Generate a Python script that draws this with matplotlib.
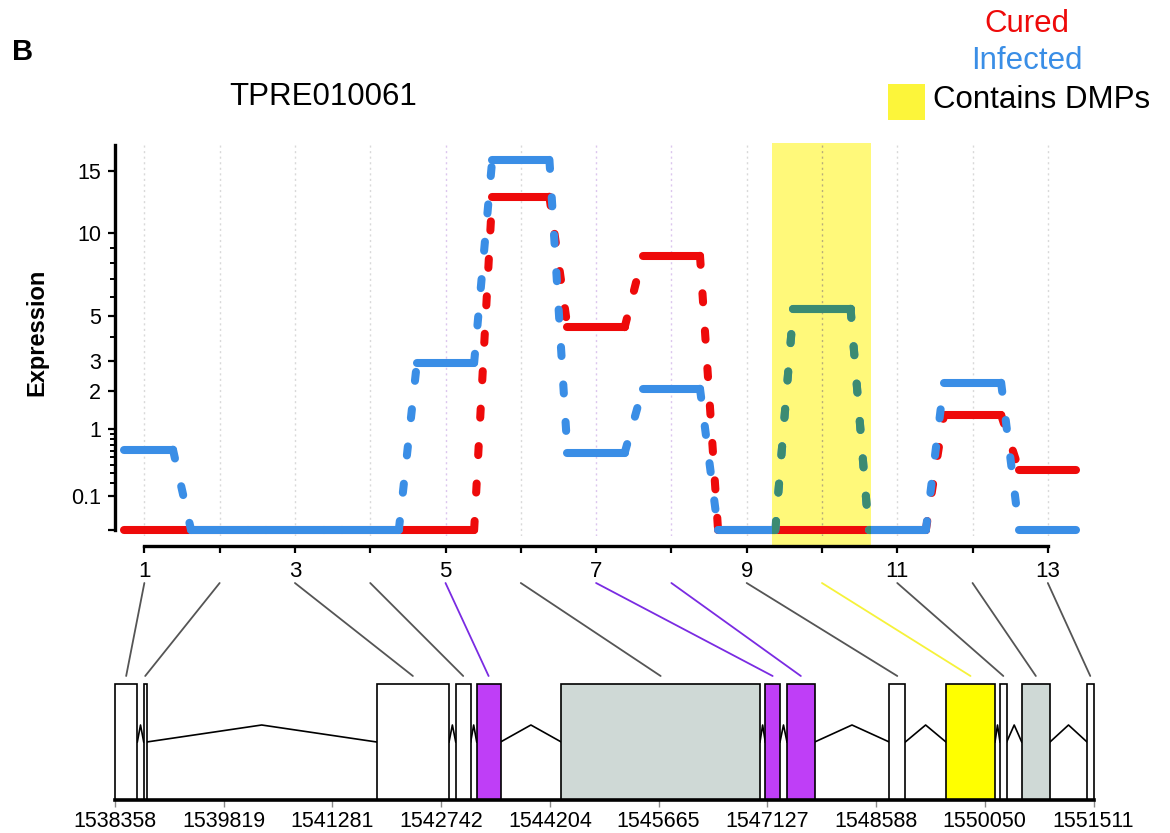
import numpy as np
import matplotlib
matplotlib.use('Agg')
import matplotlib.pyplot as plt
from matplotlib.patches import Rectangle, ConnectionPatch
from matplotlib.transforms import blended_transform_factory

plt.rcParams['font.family'] = ['Liberation Sans', 'DejaVu Sans']
plt.rcParams['lines.scale_dashes'] = False

# ---------------- data ----------------
gene_id = "TPRE010061"
exon_ids = list(range(1, 14))
cured = [0, 0, 0, 0, 0, 12.8, 4.45, 8.45, 0, 0, 0, 1.33, 0.33]
infected = [0.62, 0, 0, 0, 2.95, 16.0, 0.57, 2.06, 0, 5.35, 0, 2.25, 0]
exon_start = [1538358, 1538744, 1541876, 1542938, 1543220, 1544357, 1547099,
              1547391, 1548766, 1549528, 1550254, 1550546, 1551424]
exon_end = [1538658, 1538784, 1542848, 1543139, 1543540, 1547028, 1547297,
            1547763, 1548981, 1550187, 1550344, 1550926, 1551511]
exon_class = ['plain', 'plain', 'plain', 'plain', 'sig', 'other', 'sig', 'sig',
              'plain', 'dmp', 'plain', 'other', 'plain']
dmp_span = (9.34, 10.65)
genome_ticks = [1538358, 1539819, 1541281, 1542742, 1544204, 1545665,
                1547127, 1548588, 1550050, 1551511]
y_major = [0, 0.1, 1, 2, 3, 5, 10, 15]
y_major_labels = ['', '0.1', '1', '2', '3', '5', '10', '15']
y_minor = [0.2, 0.3, 0.4, 0.5, 0.6, 0.7, 0.8, 0.9, 4, 6, 7, 8, 9]

# ---------------- style ----------------
RED = '#ee0a0a'
BLUE = '#3a8ee6'
TEAL = '#3b8b72'
BAND = '#fff97a'
fill_colors = {'plain': 'white', 'sig': '#bf3ef7', 'other': '#cfd9d6', 'dmp': '#ffff00'}
conn_colors = {'plain': '#555555', 'sig': '#7a2be2', 'other': '#555555', 'dmp': '#f6f23a'}
grid_colors = {'plain': '#d9d9d9', 'sig': '#dcc6ee', 'other': '#d9d9d9', 'dmp': '#b8ad7a'}

W, H = 1170, 833
fig = plt.figure(figsize=(W / 100, H / 100), dpi=100)

P = 0.47
def fwd(v):
    v = np.asarray(v, dtype=float)
    return np.sign(v) * np.abs(v) ** P
def inv(u):
    u = np.asarray(u, dtype=float)
    return np.sign(u) * np.abs(u) ** (1 / P)

ax = fig.add_axes([115 / W, 1 - 536 / H, 978 / W, 391 / H])
ax.set_yscale('function', functions=(fwd, inv))
ax.set_xlim(0.61, 13.6)
ax.set_ylim(-0.0025, 17.4)

for s in ['top', 'right']:
    ax.spines[s].set_visible(False)
ax.spines['left'].set_linewidth(2.4)
ax.spines['left'].set_bounds(0, 17.4)
ax.spines['bottom'].set_linewidth(2.4)
ax.spines['bottom'].set_position(('outward', 7))
ax.spines['bottom'].set_bounds(1, 13)

ax.set_xticks(exon_ids)
ax.set_xticklabels([str(i) if i % 2 == 1 else '' for i in exon_ids])
ax.tick_params(axis='x', direction='out', length=5, width=1.6, labelsize=16, pad=6)
ax.set_yticks(y_major)
ax.set_yticklabels(y_major_labels)
ax.set_yticks(y_minor, minor=True)
ax.yaxis.set_minor_formatter(plt.NullFormatter())
ax.tick_params(axis='y', which='major', direction='out', length=5, width=1.6,
               labelsize=15.5, pad=5)
ax.tick_params(axis='y', which='minor', direction='out', length=3.5, width=1.4)

# grid lines
for i, c in zip(exon_ids, exon_class):
    ax.axvline(i, color=grid_colors[c], lw=1.0, ls=(0, (1.5, 2.5)), zorder=0.5)

# DMP band
band = ax.axvspan(dmp_span[0], dmp_span[1], ymin=-0.023, ymax=1.005,
                  color=BAND, lw=0, zorder=0.2, clip_on=False)

HALF = 0.38
FIRST_START = 0.73
LW = 5.8
DASH = (0, (6.5, 20.5))

def draw_series(vals, color, z, clip=None):
    arts = []
    for k, (i, v) in enumerate(zip(exon_ids, vals)):
        x0 = max(i - HALF, FIRST_START) if k == 0 else i - HALF
        l, = ax.plot([x0, i + HALF], [v, v], color=color, lw=LW,
                     solid_capstyle='round', zorder=z)
        arts.append(l)
    for k in range(len(vals) - 1):
        i0, i1 = exon_ids[k], exon_ids[k + 1]
        v0, v1 = vals[k], vals[k + 1]
        ls = '-' if v0 == v1 else DASH
        l, = ax.plot([i0 + HALF, i1 - HALF], [v0, v1], color=color, lw=LW,
                     linestyle=ls, dash_capstyle='round', solid_capstyle='round',
                     zorder=z)
        arts.append(l)
    if clip is not None:
        for a in arts:
            a.set_clip_path(clip)
    return arts

draw_series(cured, RED, 2)
draw_series(infected, BLUE, 3)
draw_series(infected, TEAL, 3.5, clip=band)

# ---------------- gene model ----------------
axg = fig.add_axes([115 / W, 1 - 800 / H, 978.5 / W, 217 / H])
axg.set_xlim(genome_ticks[0], genome_ticks[-1])
axg.set_ylim(0, 1)
for s in ['top', 'right', 'left']:
    axg.spines[s].set_visible(False)
axg.spines['bottom'].set_linewidth(2.6)
axg.spines['bottom'].set_zorder(5)
axg.set_yticks([])
axg.set_xticks(genome_ticks)
axg.set_xticklabels([str(t) for t in genome_ticks])
axg.tick_params(axis='x', direction='out', length=5, width=1.0, colors='#8a8a8a',
                labelcolor='black', labelsize=15.5, pad=3)

BOX_H = (800 - 684) / 217
MID = (800 - 742) / 217
PEAK = (800 - 725) / 217
CONN_BOT = (800 - 676) / 217

for s, e, c in zip(exon_start, exon_end, exon_class):
    axg.add_patch(Rectangle((s, 0), e - s, BOX_H, facecolor=fill_colors[c],
                            edgecolor='black', lw=1.2, zorder=3, clip_on=False))
for k in range(len(exon_start) - 1):
    x0, x1 = exon_end[k], exon_start[k + 1]
    axg.plot([x0, (x0 + x1) / 2, x1], [MID, PEAK, MID], color='black', lw=1.2,
             zorder=2, clip_on=False)

trA = blended_transform_factory(ax.transData, axg.transAxes)
for i, s, e, c in zip(exon_ids, exon_start, exon_end, exon_class):
    cp = ConnectionPatch(xyA=(i, 1.0), coordsA=trA, xyB=((s + e) / 2, CONN_BOT),
                         coordsB=axg.transData, arrowstyle='-',
                         color=conn_colors[c], lw=1.3)
    fig.add_artist(cp)

# ---------------- texts ----------------
fig.text(12 / W, 1 - 52 / H, 'B', fontsize=21, fontweight='bold', ha='left', va='center')
fig.text(323 / W, 1 - 97 / H, gene_id, fontsize=22.5, ha='center', va='center')
fig.text(37 / W, 1 - 332 / H, 'Expression', rotation=90, fontsize=17,
         fontweight='bold', ha='center', va='center')
fig.text(1027 / W, 1 - 24 / H, 'Cured', color=RED, fontsize=22.5, ha='center', va='center')
fig.text(1027 / W, 1 - 61 / H, 'Infected', color=BLUE, fontsize=22.5, ha='center', va='center')
fig.add_artist(Rectangle((888 / W, 1 - 120 / H), 37 / W, 36 / H, transform=fig.transFigure,
                         facecolor='#fcf53a', edgecolor='none'))
fig.text(933 / W, 1 - 100 / H, 'Contains DMPs', color='black', fontsize=22.5,
         ha='left', va='center')

fig.savefig('out.png', dpi=100)
